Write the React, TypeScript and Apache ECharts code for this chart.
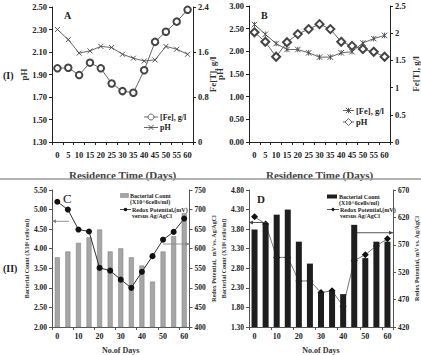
import React, { useEffect, useRef } from "react";
import * as echarts from "echarts";

// Sampling days shared by all four panels
const days = ["0", "5", "10", "15", "20", "25", "30", "35", "40", "45", "50", "55", "60"];

// Panel A
const feA = [1.31, 1.32, 1.19, 1.41, 1.31, 1.04, 0.905, 0.875, 1.275, 1.78, 1.96, 2.14, 2.35];
const phA = [2.3, 2.21, 2.09, 2.11, 2.15, 2.14, 2.08, 2.045, 2.02, 2.03, 2.15, 2.125, 2.08];

// Panel B
const feB = [2.16, 1.98, 1.81, 1.7, 1.7, 1.64, 1.56, 1.56, 1.64, 1.66, 1.82, 1.9, 1.96];
const phB = [2.42, 2.21, 1.88, 2.2, 2.38, 2.49, 2.6, 2.49, 2.21, 2.12, 2.05, 1.99, 1.88];

// Panel C
const countC = [3.78, 3.93, 4.15, 4.29, 4.49, 3.93, 4.01, 3.78, 3.57, 3.16, 3.93, 4.32, 4.91];
const redoxC = [720, 700, 649, 644, 551, 544, 521, 500, 541, 581, 623, 643, 677];

// Panel D
const countD = [3.79, 3.94, 4.17, 4.3, 3.48, 2.92, 2.18, 2.21, 2.14, 3.91, 3.06, 3.48, 3.48];
const redoxD = [621, 608, 547, 547, 504, 504, 483, 486, 458, 541, 552, 568, 581];

// Axis guide arrows: [panel, yAxisIndex, level, start day, side]
const guides: [number, number, number, string, "left" | "right"][] = [
  [2, 4, 4.7, "5", "left"],
  [2, 5, 612, "50", "right"],
  [3, 6, 3.97, "5", "left"],
  [3, 7, 592, "45", "right"],
];

const SERIF = "Liberation Serif, Times New Roman, serif";
const INK = "#222";
const X_SYMBOL = "path://M0,0L10,10M10,0L0,10";
const STAR_SYMBOL = "path://M0,0L10,10M10,0L0,10M5,0L5,10";

function xAxisFor(grid: number, small: boolean) {
  return {
    type: "category",
    gridIndex: grid,
    data: days,
    boundaryGap: true,
    axisLine: { lineStyle: { color: small ? "#555" : INK, width: 1 } },
    axisTick: { show: true, length: 3, lineStyle: { color: small ? "#555" : INK } },
    axisLabel: {
      interval: small ? 1 : 0,
      margin: small ? 5 : 8,
      fontFamily: SERIF,
      fontWeight: "bold",
      fontSize: small ? 8 : 8.5,
      color: INK,
    },
    name: small ? "No.of Days" : "Residence Time (Days)",
    nameLocation: "middle",
    nameGap: small ? 19 : 27.5,
    nameTextStyle: {
      fontFamily: SERIF,
      fontWeight: "bold",
      fontSize: small ? 8 : 11,
      color: small ? "#333" : "#444",
    },
  };
}

function yAxisFor(
  grid: number,
  position: "left" | "right",
  min: number,
  max: number,
  interval: number,
  name: string,
  opts: { decimals?: number; small?: boolean; nameGap: number; fixedName?: boolean }
) {
  const small = !!opts.small;
  const axis: any = {
    type: "value",
    gridIndex: grid,
    position,
    min,
    max,
    interval,
    splitLine: { show: false },
    axisLine: { show: true, lineStyle: { color: small ? "#555" : INK, width: 1 } },
    axisTick: { show: true, length: 3, lineStyle: { color: small ? "#555" : INK } },
    axisLabel: {
      margin: 5,
      fontFamily: SERIF,
      fontWeight: "bold",
      fontSize: small ? 7.5 : 8.5,
      color: INK,
      formatter: (v: number) =>
        opts.decimals !== undefined ? v.toFixed(opts.decimals) : String(+v.toFixed(2)),
    },
    name,
    nameLocation: "middle",
    nameRotate: 90,
    nameGap: opts.nameGap,
    nameTextStyle: {
      fontFamily: SERIF,
      fontWeight: "bold",
      fontSize: small ? 6 : 9,
      color: "#333",
    },
  };
  if (opts.fixedName) axis.nameMoveOverlap = false;
  return axis;
}

export default function App() {
  const ref = useRef<HTMLDivElement>(null);

  useEffect(() => {
    if (!ref.current) return;
    const chart = echarts.init(ref.current, null, { renderer: "svg" });

    const lineStyle = { color: "#555", width: 0.9 };
    const option: any = {
      animation: false,
      backgroundColor: "#fff",
      grid: [
        { left: 52, top: 7, width: 141, height: 135 },
        { left: 249, top: 6, width: 144, height: 136 },
        { left: 52, top: 190, width: 137.5, height: 139.5 },
        { left: 249, top: 190, width: 145, height: 139.5 },
      ],
      xAxis: [xAxisFor(0, false), xAxisFor(1, false), xAxisFor(2, true), xAxisFor(3, true)],
      yAxis: [
        yAxisFor(0, "left", 1.3, 2.5, 0.2, "pH", { decimals: 2, nameGap: 19 }),
        yAxisFor(0, "right", 0, 2.4, 0.8, "Fe[T], g/l", { nameGap: 15, fixedName: true }),
        yAxisFor(1, "left", 0, 3, 0.5, "pH", { decimals: 2, nameGap: 25, fixedName: true }),
        yAxisFor(1, "right", 0, 2.5, 0.5, "Fe[T], g/l", { nameGap: 21 }),
        yAxisFor(2, "left", 2, 5.5, 0.5, "Bacterial Count (X10\u2076 cells/ml)", {
          decimals: 2,
          small: true,
          nameGap: 19,
        }),
        yAxisFor(2, "right", 400, 750, 50, "Redox Potential,  mV vs. Ag/AgCl", {
          small: true,
          nameGap: 21,
        }),
        yAxisFor(3, "left", 1.3, 4.8, 0.5, "Bacterial Count (X10\u2076 cells/ml)", {
          decimals: 2,
          small: true,
          nameGap: 21,
        }),
        yAxisFor(3, "right", 420, 670, 50, "Redox Potential, mV vs. Ag/AgCl", {
          small: true,
          nameGap: 21,
        }),
      ],
      series: [
        {
          name: "[Fe], g/l",
          type: "line",
          xAxisIndex: 0,
          yAxisIndex: 1,
          data: feA,
          symbol: "emptyCircle",
          symbolSize: 6.5,
          lineStyle,
          itemStyle: { color: "#444", borderWidth: 0.8 },
        },
        {
          name: "pH",
          type: "line",
          xAxisIndex: 0,
          yAxisIndex: 0,
          data: phA,
          symbol: X_SYMBOL,
          symbolSize: 5,
          lineStyle,
          itemStyle: { color: "#444", borderColor: "#444", borderWidth: 0.9 },
        },
        {
          name: "[Fe], g/l",
          type: "line",
          xAxisIndex: 1,
          yAxisIndex: 3,
          data: feB,
          symbol: STAR_SYMBOL,
          symbolSize: 5.5,
          lineStyle,
          itemStyle: { color: "#444", borderColor: "#444", borderWidth: 0.9 },
        },
        {
          name: "pH",
          type: "line",
          xAxisIndex: 1,
          yAxisIndex: 2,
          data: phB,
          symbol: "emptyDiamond",
          symbolSize: 8,
          lineStyle,
          itemStyle: { color: "#444", borderWidth: 0.8 },
        },
        {
          name: "Bacterial Count",
          type: "bar",
          xAxisIndex: 2,
          yAxisIndex: 4,
          data: countC,
          barWidth: 5,
          z: 2,
          itemStyle: { color: "#a6a6a6", borderColor: "#7a7a7a", borderWidth: 0.5 },
        },
        {
          name: "Redox Potential",
          type: "line",
          xAxisIndex: 2,
          yAxisIndex: 5,
          data: redoxC,
          symbol: "circle",
          symbolSize: 6,
          z: 4,
          lineStyle: { color: "#333", width: 1 },
          itemStyle: { color: "#111" },
        },
        {
          name: "Bacterial Count",
          type: "bar",
          xAxisIndex: 3,
          yAxisIndex: 6,
          data: countD,
          barWidth: 6,
          z: 4,
          itemStyle: { color: "#1e1e1e" },
        },
        {
          name: "Redox Potential",
          type: "line",
          xAxisIndex: 3,
          yAxisIndex: 7,
          data: redoxD,
          symbol: "diamond",
          symbolSize: 7,
          z: 2,
          lineStyle: { color: "#555", width: 0.8 },
          itemStyle: { color: "#111" },
        },
      ],
    };

    chart.setOption(option);

    const elements: any[] = [];

    // Arrows pointing from the data to the axis each series is read against
    guides.forEach(([panel, yIdx, level, startDay, side]) => {
      const finder = { xAxisIndex: panel, yAxisIndex: yIdx };
      const c0 = chart.convertToPixel(finder, ["0", level]) as number[];
      const c1 = chart.convertToPixel(finder, ["5", level]) as number[];
      const cLast = chart.convertToPixel(finder, ["60", level]) as number[];
      const start = chart.convertToPixel(finder, [startDay, level]) as number[];
      const band = c1[0] - c0[0];
      const y = c0[1];
      const edge = side === "left" ? c0[0] - band / 2 : cLast[0] + band / 2;
      const x0 = side === "left" ? start[0] + band * 0.1 : start[0];
      const dir = side === "left" ? -1 : 1;
      const col = panel === 2 ? "#888" : "#444";
      elements.push({
        type: "line",
        z: 3,
        shape: { x1: x0, y1: y, x2: edge, y2: y },
        style: { stroke: col, lineWidth: 0.9 },
      });
      elements.push({
        type: "polygon",
        z: 3,
        shape: { points: [[edge, y], [edge - dir * 4, y - 2], [edge - dir * 4, y + 2]] },
        style: { fill: col },
      });
    });

    const text = (t: string, x: number, y: number, size: number, weight = "bold", fill = INK) => ({
      type: "text",
      x,
      y,
      z: 10,
      style: { text: t, font: `${weight} ${size}px ${SERIF}`, fill, textVerticalAlign: "middle" },
    });
    const seg = (x1: number, x2: number, y: number, stroke = "#555") => ({
      type: "line",
      z: 10,
      shape: { x1, y1: y, x2, y2: y },
      style: { stroke, lineWidth: 0.9 },
    });
    const cross = (cx: number, cy: number, r: number, star: boolean) => {
      const out: any[] = [
        { type: "line", z: 11, shape: { x1: cx - r, y1: cy - r, x2: cx + r, y2: cy + r }, style: { stroke: "#444", lineWidth: 0.9 } },
        { type: "line", z: 11, shape: { x1: cx - r, y1: cy + r, x2: cx + r, y2: cy - r }, style: { stroke: "#444", lineWidth: 0.9 } },
      ];
      if (star)
        out.push({ type: "line", z: 11, shape: { x1: cx, y1: cy - r, x2: cx, y2: cy + r }, style: { stroke: "#444", lineWidth: 0.9 } });
      return out;
    };

    // Legend, panel A
    elements.push(
      seg(144, 158, 117),
      { type: "circle", z: 11, shape: { cx: 151, cy: 117, r: 3 }, style: { fill: "#fff", stroke: "#444", lineWidth: 0.8 } },
      text("[Fe], g/l", 160, 117, 8),
      seg(144, 158, 127.5),
      ...cross(151, 127.5, 2.5, false),
      text("pH", 160, 127.5, 8)
    );

    // Legend, panel B
    elements.push(
      seg(343, 354, 110.5),
      ...cross(348.5, 110.5, 2.7, true),
      text("[Fe], g/l", 356, 110.5, 8.5),
      seg(343, 354, 122),
      {
        type: "polygon",
        z: 11,
        shape: { points: [[348.5, 118.5], [352, 122], [348.5, 125.5], [345, 122]] },
        style: { fill: "#fff", stroke: "#444", lineWidth: 0.8 },
      },
      text("pH", 356, 122, 8.5)
    );

    // Legend, panel C
    elements.push(
      { type: "rect", z: 11, shape: { x: 120.5, y: 193.5, width: 8, height: 4 }, style: { fill: "#a6a6a6", stroke: "#7a7a7a", lineWidth: 0.5 } },
      text("Bacterial Count", 130, 195.5, 6),
      text("(X10^6cells/ml)", 130, 202, 6),
      seg(120, 131, 209.5, "#333"),
      { type: "circle", z: 11, shape: { cx: 125.5, cy: 209.5, r: 1.8 }, style: { fill: "#111" } },
      text("Redox Potential,(mV)", 132, 209.5, 6),
      text("versus Ag/AgCl", 132, 215.5, 6)
    );

    // Legend, panel D
    elements.push(
      { type: "rect", z: 11, shape: { x: 327, y: 194.5, width: 10, height: 4 }, style: { fill: "#1e1e1e" } },
      text("Bacterial Count", 339, 196.5, 6),
      text("(X10^6cells/ml)", 339, 203, 6),
      seg(327, 339, 209.5, "#444"),
      {
        type: "polygon",
        z: 11,
        shape: { points: [[333, 207.5], [335, 209.5], [333, 211.5], [331, 209.5]] },
        style: { fill: "#111" },
      },
      text("Redox Potential,(mV)", 340, 209.5, 6),
      text("versus Ag/AgCl", 340, 215.5, 6)
    );

    // Panel tags and the rule between the two rows
    elements.push(
      text("(I)", 3, 75, 10),
      text("(II)", 3, 268, 10),
      text("A", 64, 15, 10),
      text("B", 261, 15, 10),
      text("C", 63, 198, 13, "normal"),
      text("D", 257, 199, 11),
      {
        type: "line",
        z: 10,
        shape: { x1: 0, y1: 179, x2: 421, y2: 179 },
        style: { stroke: "#999", lineWidth: 1.5 },
      }
    );

    chart.setOption({ graphic: { elements } });

    return () => chart.dispose();
  }, []);

  return (
    <div
      ref={ref}
      style={{ position: "absolute", left: 0, top: 0, width: 421, height: 355 }}
    />
  );
}
